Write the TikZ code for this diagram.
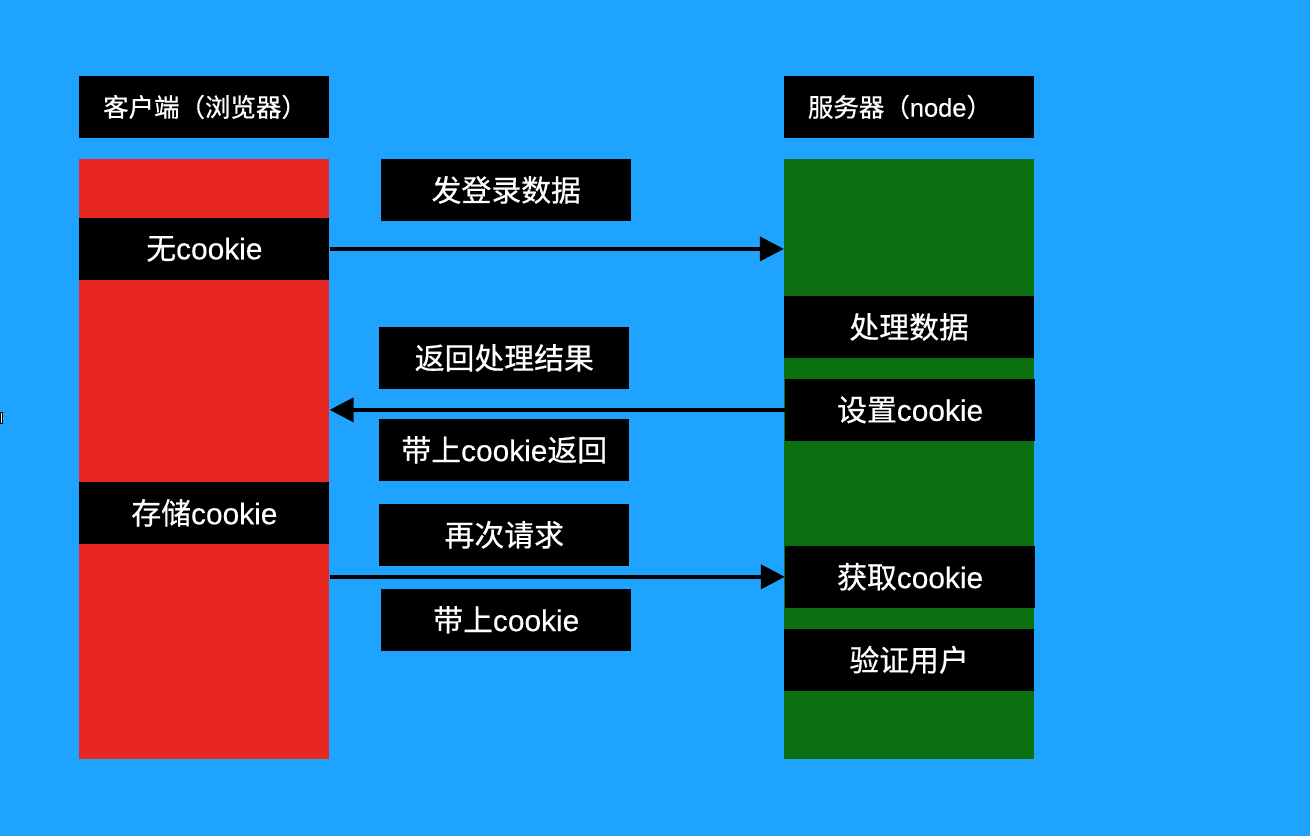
\documentclass[tikz,border=0pt]{standalone}
\usepackage{fontspec}
\setmainfont[FakeBold=0.4]{Liberation Sans}
\newfontfamily\cjk[FakeBold=0.6]{Noto Sans CJK SC}
\usepackage{tikz}
\usetikzlibrary{arrows.meta}
\definecolor{fond}{RGB}{30,164,254}
\definecolor{rouge}{RGB}{232,40,32}
\definecolor{vert}{RGB}{13,112,16}
\newcommand{\ccol}{rouge}
\newcommand{\scol}{vert}

\begin{document}
\begin{tikzpicture}[x=0.02cm, y=-0.02cm,
    boite/.style={fill=black, text=white, inner sep=0pt, minimum width=5cm, minimum height=1.24cm, font=\fontsize{17}{20}\selectfont},
    titre/.style={boite, text width=4.05cm, align=left, font=\fontsize{14.5}{17}\selectfont},
    fleche/.style={line width=0.08cm, -{Triangle[length=0.48cm, width=0.48cm]}}]

    % fond
    \fill[fond] (0, 0) rectangle (1310, 836);
    \draw[fill=white, draw=black, line width=0.5pt] (0, 413) rectangle (2, 424);

    % colonnes
    \node[fill=\ccol, minimum width=5cm, minimum height=12cm, inner sep=0pt] (client) at (204, 459) {};
    \node[fill=\scol, minimum width=5cm, minimum height=12cm, inner sep=0pt] (server) at (909, 459) {};

    \node[titre] (ctitle) at (204, 107) {\cjk 客户端（浏览器）};
    \node[titre] (stitle) at (909, 107) {{\cjk 服务器（}node{\cjk ）}};

    % client
    \node[boite] (nocookie) at (204, 249) {{\cjk 无}cookie};
    \node[boite] (savecookie) at (204, 513) {{\cjk 存储}cookie};

    % serveur
    \node[boite] (process) at (909, 327) {\cjk 处理数据};
    \node[boite] (setcookie) at (910, 410) {{\cjk 设置}cookie};
    \node[boite] (getcookie) at (910, 577) {{\cjk 获取}cookie};
    \node[boite] (checkuser) at (909, 660) {\cjk 验证用户};

    % messages
    \node[boite] (login) at (506, 190) {\cjk 发登录数据};
    \node[boite] (result) at (504, 358) {\cjk 返回处理结果};
    \node[boite] (withback) at (504, 450) {{\cjk 带上}cookie{\cjk 返回}};
    \node[boite] (again) at (504, 535) {\cjk 再次请求};
    \node[boite] (withcookie) at (506, 620) {{\cjk 带上}cookie};

    % fleches
    \draw[fleche] (nocookie.east) -- (nocookie.east -| server.west);
    \draw[fleche] (setcookie.west) -- (setcookie.west -| client.east);
    \draw[fleche] (getcookie.west -| client.east) -- (getcookie.west);

\end{tikzpicture}
\end{document}
